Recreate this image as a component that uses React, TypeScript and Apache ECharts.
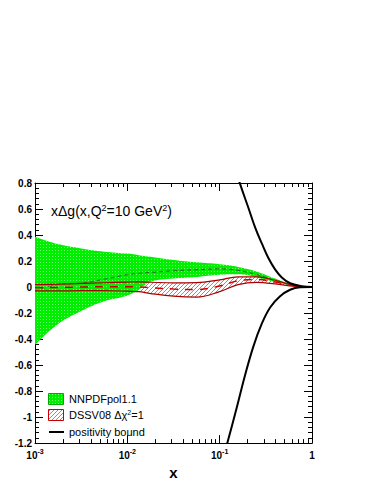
import React, { useEffect, useRef } from 'react';
import * as echarts from 'echarts';

// ---- data ----
const xGrid = [0.001, 0.00178, 0.00316, 0.00562, 0.01, 0.0133, 0.0178, 0.0316, 0.0562, 0.1, 0.158, 0.251, 0.398, 0.631, 0.794, 1];
const nnpdfUpper = [0.387, 0.33, 0.297, 0.272, 0.257, 0.245, 0.232, 0.207, 0.19, 0.175, 0.155, 0.12, 0.065, 0.016, 0.005, 0];
const nnpdfLower = [-0.446, -0.285, -0.185, -0.11, -0.065, -0.02, 0.04, 0.065, 0.078, 0.095, 0.098, 0.076, 0.039, 0.01, 0.003, 0];
const nnpdfCentral = [-0.03, 0.02, 0.03, 0.06, 0.095, 0.105, 0.112, 0.125, 0.133, 0.14, 0.128, 0.096, 0.05, 0.012, 0.003, 0];
const dssvUpper = [0.018, 0.022, 0.028, 0.033, 0.038, 0.04, 0.037, 0.032, 0.034, 0.055, 0.078, 0.078, 0.052, 0.012, 0.004, 0];
const dssvLower = [-0.03, -0.03, -0.028, -0.028, -0.032, -0.036, -0.05, -0.07, -0.077, -0.035, 0.018, 0.036, 0.024, 0.006, 0.002, 0];
const dssvCentral = [-0.005, -0.003, 0.0, 0.002, 0.003, 0.0, -0.005, -0.015, -0.02, 0.008, 0.048, 0.058, 0.038, 0.009, 0.003, 0];

const boundUpperX = [0.141, 0.166, 0.205, 0.242, 0.286, 0.337, 0.398, 0.471, 0.579, 0.776, 1];
const boundUpper = [0.96, 0.795, 0.608, 0.459, 0.335, 0.223, 0.136, 0.074, 0.029, 0.007, 0];
const boundLowerX = [0.1, 0.121, 0.153, 0.188, 0.232, 0.286, 0.352, 0.451, 0.579, 0.743, 1];
const boundLower = [-1.42, -1.2, -0.929, -0.68, -0.456, -0.282, -0.157, -0.071, -0.021, -0.002, 0];

const xMinorTicks = [0.002, 0.003, 0.004, 0.005, 0.006, 0.007, 0.008, 0.009,
  0.02, 0.03, 0.04, 0.05, 0.06, 0.07, 0.08, 0.09,
  0.2, 0.3, 0.4, 0.5, 0.6, 0.7, 0.8, 0.9];

const legendNames = ['NNPDFpol1.1', 'DSSV08 Δχ²=1', 'positivity bound'];
const xAxisName = 'x';

const FONT = '"Liberation Sans", Arial, Helvetica, sans-serif';

function makeGreenTile(): HTMLCanvasElement {
  const c = document.createElement('canvas');
  c.width = 3; c.height = 3;
  const g = c.getContext('2d')!;
  g.fillStyle = '#00ee00';
  g.fillRect(0, 0, 3, 3);
  g.fillStyle = '#7cff7c';
  g.fillRect(1, 1, 1, 1);
  return c;
}
function makeHatchTile(): HTMLCanvasElement {
  const c = document.createElement('canvas');
  c.width = 4; c.height = 4;
  const g = c.getContext('2d')!;
  g.clearRect(0, 0, 4, 4);
  g.fillStyle = '#f06a6a';
  for (let i = 0; i < 4; i++) g.fillRect(i, 3 - i, 1, 1);
  return c;
}

// [x, y] pairs for plain lines
const pairs = (xs: number[], ys: number[]) => xs.map((x, i) => [x, ys[i]]);
// [y, x] rows for stacked series (so that the y dimension is the one that is stacked)
const rowsYX = (xs: number[], ys: number[]) => xs.map((x, i) => [ys[i], x]);

export default function App() {
  const ref = useRef<HTMLDivElement>(null);
  useEffect(() => {
    if (!ref.current) return;
    const chart = echarts.init(ref.current, null, { renderer: 'svg' });

    const greenFill: any = { image: makeGreenTile().toDataURL('image/png'), repeat: 'repeat', imageWidth: 3, imageHeight: 3 };
    const hatchFill: any = { image: makeHatchTile().toDataURL('image/png'), repeat: 'repeat', imageWidth: 4, imageHeight: 4 };

    const xLabelFormatter = (v: number) => {
      const e = Math.round(Math.log10(v));
      if (e === 0) return '{b|1}';
      return '{b|10}{s|' + e + '}';
    };

    const commonX = {
      type: 'log',
      logBase: 10,
      min: 0.001,
      max: 1,
      splitLine: { show: false },
      minorTick: { show: false },
      axisLine: { show: true, onZero: false, lineStyle: { color: '#000', width: 1 } },
      axisTick: { show: true, inside: true, length: 8, lineStyle: { color: '#000', width: 1 } },
    };
    const commonY = {
      type: 'value',
      min: -1.2,
      max: 0.8,
      interval: 0.2,
      splitLine: { show: false },
      axisLine: { show: true, onZero: false, lineStyle: { color: '#000', width: 1 } },
      axisTick: { show: true, inside: true, length: 8, lineStyle: { color: '#000', width: 1 } },
      minorTick: { show: true, splitNumber: 5, length: 4, lineStyle: { color: '#000', width: 1 } },
    };

    const stackedBase = (name: string, stack: string, xs: number[], ys: number[], z: number) => ({
      type: 'line', name, stack, stackStrategy: 'all',
      data: rowsYX(xs, ys), encode: { x: 1, y: 0 },
      smooth: 0.4, symbol: 'none', lineStyle: { opacity: 0 }, silent: true, z,
    });

    const option: any = {
      animation: false,
      grid: { left: 35, top: 183, width: 277, height: 268, containLabel: false },
      xAxis: [
        {
          ...commonX,
          position: 'bottom',
          name: xAxisName,
          nameLocation: 'middle',
          nameGap: 19,
          nameTextStyle: { fontFamily: FONT, fontWeight: 'bold', fontSize: 15, color: '#000' },
          axisLabel: {
            show: true,
            margin: 5,
            showMinLabel: true,
            showMaxLabel: true,
            formatter: xLabelFormatter,
            rich: {
              b: { fontFamily: FONT, fontWeight: 'bold', fontSize: 10, color: '#000', lineHeight: 14 },
              s: { fontFamily: FONT, fontWeight: 'bold', fontSize: 7, color: '#000', lineHeight: 7, verticalAlign: 'top' },
            },
          },
        },
        { ...commonX, position: 'top', axisLabel: { show: false } },
      ],
      yAxis: [
        {
          ...commonY,
          position: 'left',
          axisLabel: {
            show: true,
            margin: 3,
            fontFamily: FONT,
            fontWeight: 'bold',
            fontSize: 10,
            color: '#000',
            formatter: (v: number) => String(Math.round(v * 10) / 10),
          },
        },
        { ...commonY, position: 'right', axisLabel: { show: false } },
      ],
      series: [
        stackedBase('nnpdf-lower', 'nn', xGrid, nnpdfLower, 2),
        {
          ...stackedBase(legendNames[0], 'nn', xGrid, nnpdfUpper.map((u, i) => u - nnpdfLower[i]), 2),
          areaStyle: { color: greenFill, opacity: 1 },
        },
        {
          type: 'line', name: 'nnpdf-central', data: pairs(xGrid, nnpdfCentral), smooth: 0.4, symbol: 'none',
          lineStyle: { color: '#2b662b', width: 1, type: [4, 3] }, silent: true, z: 3,
        },
        stackedBase('dssv-lower-base', 'ds', xGrid, dssvLower, 4),
        {
          ...stackedBase(legendNames[1], 'ds', xGrid, dssvUpper.map((u, i) => u - dssvLower[i]), 4),
          areaStyle: { color: hatchFill, opacity: 1 },
        },
        {
          type: 'line', name: 'dssv-upper', data: pairs(xGrid, dssvUpper), smooth: 0.4, symbol: 'none',
          lineStyle: { color: '#a80000', width: 1.2 }, silent: true, z: 5,
        },
        {
          type: 'line', name: 'dssv-lower', data: pairs(xGrid, dssvLower), smooth: 0.4, symbol: 'none',
          lineStyle: { color: '#a80000', width: 1.2 }, silent: true, z: 5,
        },
        {
          type: 'line', name: 'dssv-central', data: pairs(xGrid, dssvCentral), smooth: 0.4, symbol: 'none',
          lineStyle: { color: '#cc0000', width: 1.5, type: [8, 7] }, silent: true, z: 5,
        },
        {
          type: 'line', name: legendNames[2], data: pairs(boundUpperX, boundUpper), smooth: 0.4, symbol: 'none',
          lineStyle: { color: '#000', width: 2 }, silent: true, z: 6, clip: true,
        },
        {
          type: 'line', name: 'bound-lower', data: pairs(boundLowerX, boundLower), smooth: 0.4, symbol: 'none',
          lineStyle: { color: '#000', width: 2 }, silent: true, z: 6, clip: true,
        },
        {
          type: 'custom', name: 'minor-ticks', silent: true, z: 7,
          data: xMinorTicks.map((v) => [v, 0]),
          encode: { x: 0, y: 1 },
          renderItem: (params: any, api: any) => {
            const p = api.coord([api.value(0), 0]);
            const cs = params.coordSys;
            const px = Math.round(p[0]) + 0.5;
            const bottom = cs.y + cs.height;
            return {
              type: 'group',
              children: [
                { type: 'line', shape: { x1: px, y1: bottom, x2: px, y2: bottom - 4 }, style: { stroke: '#000', lineWidth: 1 } },
                { type: 'line', shape: { x1: px, y1: cs.y, x2: px, y2: cs.y + 4 }, style: { stroke: '#000', lineWidth: 1 } },
              ],
            };
          },
        },
      ],
      graphic: [
        {
          type: 'text', x: 51, y: 211, z: 100,
          style: {
            text: '{a|xΔg(x,Q}{s|2}{a|=10 GeV}{s|2}{a|)}',
            verticalAlign: 'middle', align: 'left',
            rich: {
              a: { fontFamily: FONT, fontSize: 14, fill: '#000', lineHeight: 16 },
              s: { fontFamily: FONT, fontSize: 9, fill: '#000', lineHeight: 9, verticalAlign: 'top' },
            },
          },
          silent: true,
        },
        { type: 'rect', z: 100, shape: { x: 48.5, y: 393.5, width: 15, height: 11 }, style: { fill: greenFill, stroke: '#00a800', lineWidth: 1 }, silent: true },
        { type: 'text', z: 100, x: 69, y: 399, style: { text: legendNames[0], fontFamily: FONT, fontSize: 11, fill: '#000', verticalAlign: 'middle' }, silent: true },
        { type: 'rect', z: 100, shape: { x: 48.5, y: 409.5, width: 15, height: 11 }, style: { fill: hatchFill, stroke: '#cc0000', lineWidth: 1 }, silent: true },
        {
          type: 'text', z: 100, x: 69, y: 415,
          style: {
            text: '{a|DSSV08 Δχ}{s|2}{a|=1}', verticalAlign: 'middle',
            rich: {
              a: { fontFamily: FONT, fontSize: 11, fill: '#000', lineHeight: 13 },
              s: { fontFamily: FONT, fontSize: 7, fill: '#000', lineHeight: 7, verticalAlign: 'top' },
            },
          },
          silent: true,
        },
        { type: 'line', z: 100, shape: { x1: 49, y1: 432, x2: 64, y2: 432 }, style: { stroke: '#000', lineWidth: 2 }, silent: true },
        { type: 'text', z: 100, x: 69, y: 432, style: { text: legendNames[2], fontFamily: FONT, fontSize: 11, fill: '#000', verticalAlign: 'middle' }, silent: true },
      ],
    };
    chart.setOption(option);
    return () => chart.dispose();
  }, []);
  return <div ref={ref} style={{ position: 'absolute', left: 0, top: 0, width: 375, height: 485 }} />;
}
